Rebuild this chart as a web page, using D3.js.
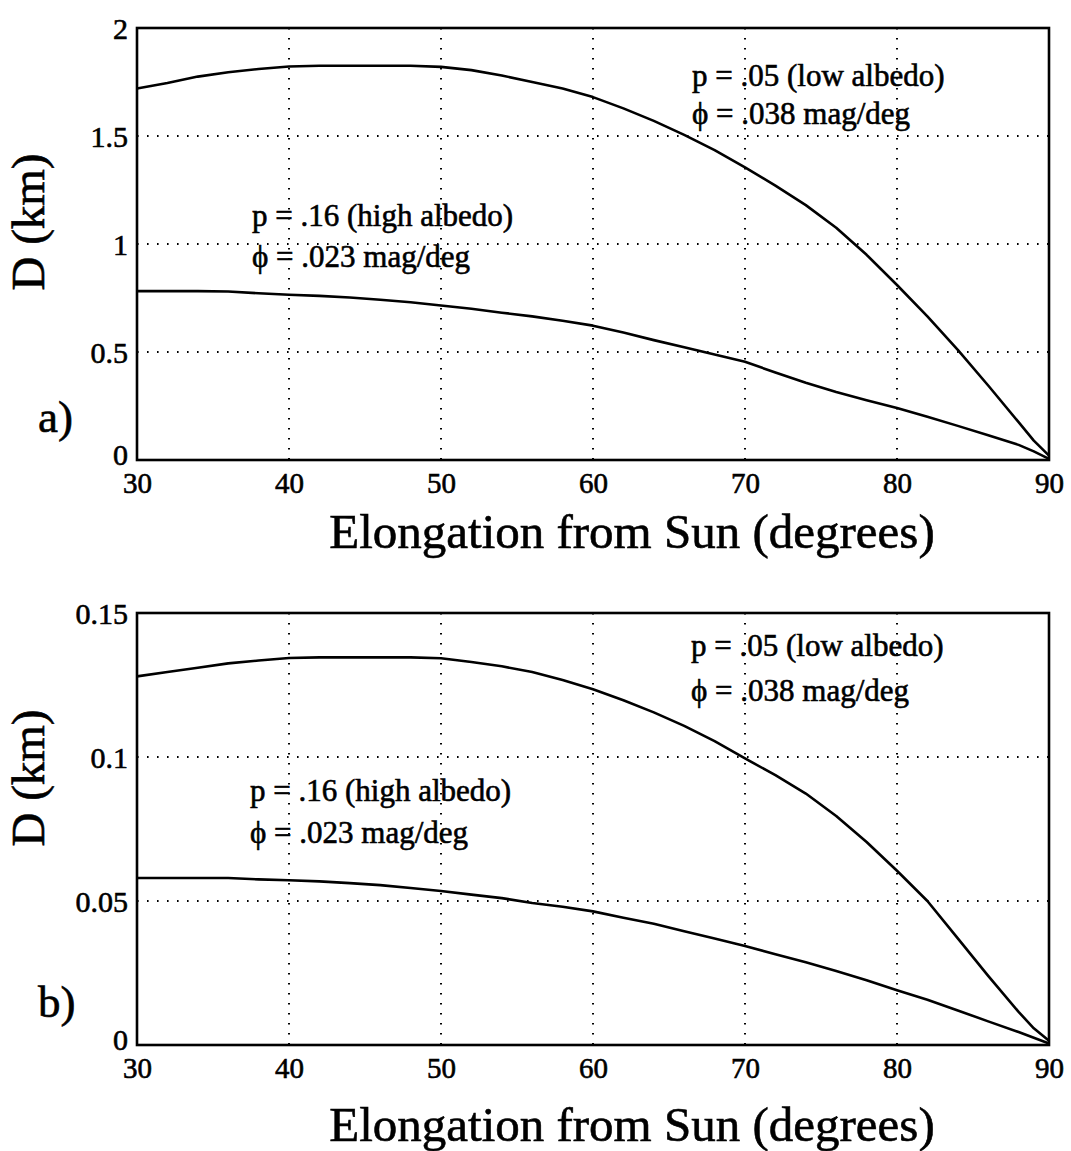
<!DOCTYPE html>
<html>
<head>
<meta charset="utf-8">
<script src="https://cdn.jsdelivr.net/npm/d3@7"></script>
<style>
  html, body { margin: 0; padding: 0; background: #fff; }
  svg { display: block; }
  text { font-family: "Liberation Serif", "Times New Roman", "DejaVu Serif", serif; fill: #000;
         stroke: #000; stroke-width: 0.6px; }
</style>
</head>
<body>
<svg id="chart" width="1071" height="1151"></svg>
<script>
// Elongation from the Sun (degrees) at which the diameters are tabulated
const elongation = [30, 32, 34, 36, 38, 40, 42, 44, 46, 48, 50, 52, 54, 56, 58, 60,
                    62, 64, 66, 68, 70, 72, 74, 76, 78, 80, 82, 84, 86, 88, 89, 90];

// Panel a) diameters (km)
const lowAlbedoA  = [1.72, 1.745, 1.775, 1.795, 1.81, 1.822, 1.825, 1.825, 1.825, 1.825, 1.82, 1.805, 1.78, 1.75, 1.72, 1.68,
                     1.628, 1.57, 1.505, 1.435, 1.355, 1.27, 1.18, 1.075, 0.95, 0.81, 0.665, 0.51, 0.345, 0.175, 0.09, 0.02];
const highAlbedoA = [0.782, 0.782, 0.782, 0.78, 0.772, 0.765, 0.76, 0.752, 0.742, 0.73, 0.715, 0.70, 0.682, 0.665, 0.645, 0.622,
                     0.59, 0.555, 0.522, 0.488, 0.455, 0.405, 0.358, 0.315, 0.277, 0.241, 0.20, 0.158, 0.115, 0.07, 0.04, 0.005];

// Panel b) diameters (km)
const lowAlbedoB  = [0.128, 0.1295, 0.131, 0.1325, 0.1335, 0.1344, 0.1346, 0.1346, 0.1346, 0.1346, 0.1343, 0.133, 0.1315, 0.1295, 0.1267, 0.1235,
                     0.1197, 0.1155, 0.1108, 0.1055, 0.0995, 0.0937, 0.0873, 0.0795, 0.0705, 0.0605, 0.050, 0.037, 0.024, 0.0115, 0.0058, 0.0015];
const highAlbedoB = [0.058, 0.058, 0.058, 0.058, 0.0575, 0.0572, 0.0568, 0.0562, 0.0555, 0.0545, 0.0535, 0.0522, 0.051, 0.0493, 0.048, 0.0464,
                     0.0442, 0.0421, 0.0395, 0.037, 0.0344, 0.0315, 0.0287, 0.0257, 0.0225, 0.019, 0.0157, 0.012, 0.0082, 0.0045, 0.0025, 0.0005];

// Tick values and their labels
const xTicks = [30, 40, 50, 60, 70, 80, 90];
const yTicksA = [0, 0.5, 1, 1.5, 2];
const yTickLabelsA = ["0", "0.5", "1", "1.5", "2"];
const yTicksB = [0, 0.05, 0.1, 0.15];
const yTickLabelsB = ["0", "0.05", "0.1", "0.15"];

// Annotation texts
const lowAlbedoText  = ["p = .05 (low albedo)", "\u03D5 = .038 mag/deg"];
const highAlbedoText = ["p = .16 (high albedo)", "\u03D5 = .023 mag/deg"];
const xTitle = "Elongation from Sun (degrees)";
const yTitle = "D (km)";
const panelLetters = ["a)", "b)"];

const svg = d3.select("#chart");
svg.append("rect").attr("width", 1071).attr("height", 1151).attr("fill", "#fff");

const left = 137, right = 1049;
const x = d3.scaleLinear().domain([30, 90]).range([left, right]);

const panels = [
  { top: 28,  bottom: 460,  yMax: 2,    ticks: yTicksA, labels: yTickLabelsA,
    series: [lowAlbedoA, highAlbedoA], letter: panelLetters[0], letterY: 432,
    yTitleY: 222, xTitleY: 548,
    lowText: { x: 692, y: [86, 124] }, highText: { x: 252, y: [226, 267] } },
  { top: 613, bottom: 1045, yMax: 0.15, ticks: yTicksB, labels: yTickLabelsB,
    series: [lowAlbedoB, highAlbedoB], letter: panelLetters[1], letterY: 1017,
    yTitleY: 778, xTitleY: 1141,
    lowText: { x: 691, y: [656, 701] }, highText: { x: 250, y: [801, 843] } }
];

panels.forEach(p => {
  const y = d3.scaleLinear().domain([0, p.yMax]).range([p.bottom, p.top]);
  const g = svg.append("g");

  // dotted grid
  g.append("g").selectAll("line")
    .data(xTicks.slice(1, -1)).join("line")
    .attr("x1", d => x(d)).attr("x2", d => x(d))
    .attr("y1", p.top).attr("y2", p.bottom)
    .attr("stroke", "#000").attr("stroke-width", 2)
    .attr("stroke-dasharray", "1.6,8.4");
  g.append("g").selectAll("line")
    .data(p.ticks.slice(1, -1)).join("line")
    .attr("x1", left).attr("x2", right)
    .attr("y1", d => y(d)).attr("y2", d => y(d))
    .attr("stroke", "#000").attr("stroke-width", 2)
    .attr("stroke-dasharray", "1.6,8.4");

  // axes (labels only; the frame is drawn separately)
  const yAxis = d3.axisLeft(y).tickValues(p.ticks).tickSize(0).tickPadding(9)
    .tickFormat((d, i) => p.labels[i]);
  const ya = g.append("g").attr("transform", `translate(${left},0)`).call(yAxis);
  ya.select(".domain").remove();
  ya.selectAll("text").style("font-size", "30px")
    .style("font-family", '"Liberation Serif", serif')
    .attr("dy", d => d === 0 ? "0.15em" : "0.35em");

  const xAxis = d3.axisBottom(x).tickValues(xTicks).tickSize(0).tickPadding(12)
    .tickFormat(d3.format("d"));
  const xa = g.append("g").attr("transform", `translate(0,${p.bottom})`).call(xAxis);
  xa.select(".domain").remove();
  xa.selectAll("text").style("font-size", "29px")
    .style("font-family", '"Liberation Serif", serif');

  // curves
  const line = d3.line().x((d, i) => x(elongation[i])).y(d => y(d));
  p.series.forEach(s => {
    g.append("path").datum(s).attr("d", line)
      .attr("fill", "none").attr("stroke", "#000")
      .attr("stroke-width", 2.6).attr("stroke-linejoin", "round");
  });

  // frame
  g.append("rect")
    .attr("x", left).attr("y", p.top)
    .attr("width", right - left).attr("height", p.bottom - p.top)
    .attr("fill", "none").attr("stroke", "#000").attr("stroke-width", 2.6);

  // annotations
  [[lowAlbedoText, p.lowText], [highAlbedoText, p.highText]].forEach(([lines, pos]) => {
    lines.forEach((t, i) => {
      g.append("text").attr("x", pos.x).attr("y", pos.y[i])
        .style("font-size", "31px").text(t);
    });
  });

  // titles
  g.append("text").attr("x", 632).attr("y", p.xTitleY)
    .attr("text-anchor", "middle").style("font-size", "49px").text(xTitle);
  g.append("text").attr("transform", `translate(44,${p.yTitleY}) rotate(-90)`)
    .attr("text-anchor", "middle").style("font-size", "47px").text(yTitle);
  g.append("text").attr("x", 38).attr("y", p.letterY)
    .style("font-size", "45px").text(p.letter);
});
</script>
</body>
</html>
